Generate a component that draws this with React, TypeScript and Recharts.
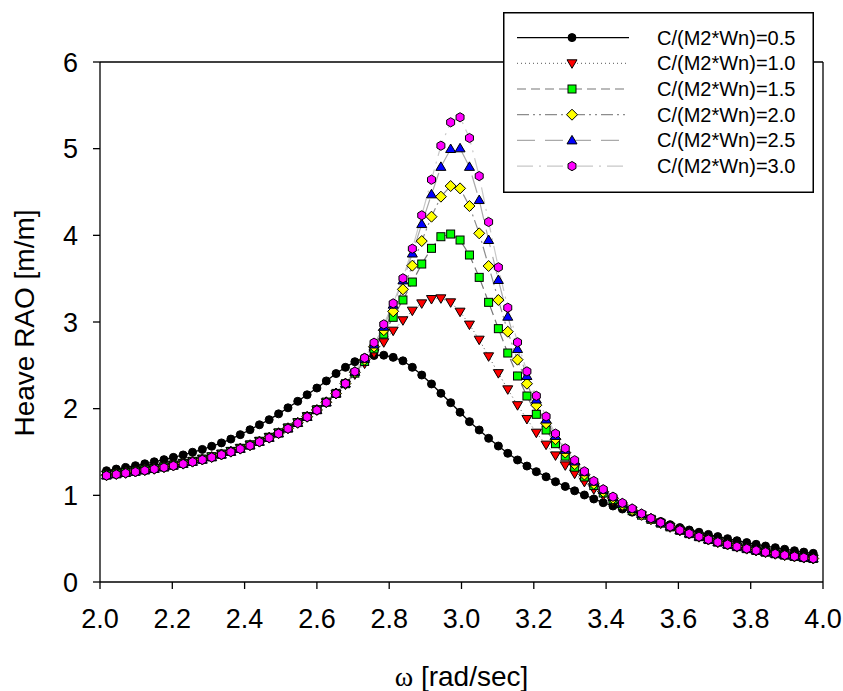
import { LineChart, Line, XAxis, YAxis, ReferenceLine, Legend, Label } from 'recharts'

const FONT = 'Liberation Sans, Arial, sans-serif'

// wave frequency, rad/sec
const OMEGA = [
  2.018, 2.045, 2.071, 2.098, 2.124, 2.150, 2.177, 2.203, 2.230, 2.256,
  2.283, 2.309, 2.336, 2.362, 2.388, 2.415, 2.441, 2.468, 2.494, 2.520,
  2.547, 2.573, 2.600, 2.626, 2.653, 2.679, 2.705, 2.732, 2.758, 2.785,
  2.811, 2.838, 2.864, 2.890, 2.917, 2.943, 2.970, 2.996, 3.022, 3.049,
  3.075, 3.102, 3.128, 3.155, 3.181, 3.207, 3.234, 3.260, 3.287, 3.313,
  3.340, 3.366, 3.392, 3.419, 3.445, 3.472, 3.498, 3.524, 3.551, 3.577,
  3.604, 3.630, 3.657, 3.683, 3.709, 3.736, 3.762, 3.789, 3.815, 3.841,
  3.868, 3.894, 3.921, 3.947, 3.973,
]

const RAO_05 = [
  1.284, 1.303, 1.322, 1.342, 1.364, 1.387, 1.412, 1.438, 1.466, 1.497,
  1.530, 1.566, 1.605, 1.649, 1.700, 1.757, 1.814, 1.873, 1.940, 2.010,
  2.085, 2.160, 2.238, 2.320, 2.405, 2.477, 2.542, 2.588, 2.614, 2.617,
  2.592, 2.552, 2.477, 2.388, 2.285, 2.177, 2.069, 1.958, 1.850, 1.754,
  1.658, 1.569, 1.485, 1.408, 1.338, 1.273, 1.214, 1.157, 1.103, 1.052,
  1.004, 0.958, 0.915, 0.877, 0.842, 0.806, 0.771, 0.735, 0.698, 0.662,
  0.628, 0.600, 0.574, 0.549, 0.524, 0.500, 0.477, 0.455, 0.435, 0.415,
  0.396, 0.378, 0.361, 0.345, 0.331,
]

const RAO_10 = [
  1.240, 1.254, 1.268, 1.283, 1.299, 1.315, 1.333, 1.353, 1.374, 1.397,
  1.422, 1.450, 1.480, 1.512, 1.547, 1.586, 1.628, 1.674, 1.725, 1.781,
  1.843, 1.912, 1.989, 2.074, 2.170, 2.278, 2.395, 2.520, 2.640, 2.766,
  2.900, 3.020, 3.131, 3.215, 3.265, 3.273, 3.227, 3.119, 2.970, 2.796,
  2.604, 2.410, 2.223, 2.040, 1.881, 1.723, 1.585, 1.461, 1.346, 1.250,
  1.155, 1.070, 1.000, 0.935, 0.875, 0.822, 0.770, 0.721, 0.676, 0.633,
  0.594, 0.556, 0.521, 0.489, 0.459, 0.432, 0.407, 0.384, 0.363, 0.344,
  0.326, 0.310, 0.295, 0.282, 0.271,
]

const RAO_15 = [
  1.235, 1.249, 1.263, 1.278, 1.294, 1.310, 1.328, 1.348, 1.369, 1.392,
  1.417, 1.445, 1.475, 1.507, 1.542, 1.581, 1.623, 1.669, 1.720, 1.777,
  1.840, 1.910, 1.988, 2.076, 2.176, 2.288, 2.410, 2.545, 2.690, 2.861,
  3.054, 3.254, 3.461, 3.669, 3.850, 3.984, 4.015, 3.946, 3.773, 3.515,
  3.227, 2.923, 2.642, 2.377, 2.146, 1.935, 1.754, 1.596, 1.452, 1.325,
  1.212, 1.112, 1.027, 0.950, 0.882, 0.823, 0.771, 0.723, 0.679, 0.636,
  0.596, 0.558, 0.523, 0.490, 0.460, 0.433, 0.408, 0.385, 0.364, 0.344,
  0.326, 0.310, 0.295, 0.282, 0.271,
]

const RAO_20 = [
  1.232, 1.246, 1.260, 1.275, 1.291, 1.307, 1.325, 1.345, 1.366, 1.389,
  1.414, 1.442, 1.472, 1.504, 1.539, 1.578, 1.620, 1.666, 1.717, 1.774,
  1.837, 1.907, 1.985, 2.074, 2.175, 2.290, 2.420, 2.565, 2.715, 2.905,
  3.123, 3.377, 3.650, 3.934, 4.215, 4.446, 4.569, 4.542, 4.338, 4.023,
  3.646, 3.254, 2.888, 2.565, 2.288, 2.040, 1.831, 1.648, 1.494, 1.360,
  1.240, 1.133, 1.042, 0.962, 0.892, 0.830, 0.776, 0.727, 0.682, 0.638,
  0.597, 0.559, 0.523, 0.490, 0.460, 0.433, 0.408, 0.385, 0.364, 0.344,
  0.326, 0.310, 0.295, 0.282, 0.271,
]

const RAO_25 = [
  1.230, 1.244, 1.258, 1.273, 1.289, 1.305, 1.323, 1.343, 1.364, 1.387,
  1.412, 1.440, 1.470, 1.502, 1.537, 1.576, 1.618, 1.664, 1.715, 1.772,
  1.835, 1.905, 1.984, 2.073, 2.174, 2.290, 2.425, 2.575, 2.740, 2.945,
  3.200, 3.480, 3.790, 4.130, 4.473, 4.790, 4.996, 5.004, 4.790, 4.407,
  3.946, 3.485, 3.061, 2.688, 2.377, 2.105, 1.875, 1.685, 1.525, 1.390,
  1.267, 1.157, 1.063, 0.979, 0.906, 0.843, 0.786, 0.733, 0.685, 0.640,
  0.598, 0.559, 0.523, 0.490, 0.460, 0.433, 0.408, 0.385, 0.364, 0.344,
  0.326, 0.310, 0.295, 0.282, 0.271,
]

const RAO_30 = [
  1.228, 1.242, 1.256, 1.271, 1.287, 1.303, 1.321, 1.341, 1.362, 1.385,
  1.410, 1.438, 1.468, 1.500, 1.535, 1.574, 1.616, 1.662, 1.713, 1.770,
  1.833, 1.903, 1.982, 2.071, 2.172, 2.290, 2.428, 2.585, 2.761, 2.973,
  3.215, 3.504, 3.846, 4.231, 4.642, 5.034, 5.304, 5.362, 5.123, 4.684,
  4.154, 3.631, 3.165, 2.766, 2.430, 2.148, 1.910, 1.712, 1.542, 1.405,
  1.277, 1.165, 1.070, 0.984, 0.912, 0.848, 0.789, 0.735, 0.686, 0.640,
  0.598, 0.559, 0.523, 0.490, 0.460, 0.433, 0.408, 0.385, 0.364, 0.344,
  0.326, 0.310, 0.295, 0.282, 0.271,
]

const X_TICKS = [2.0, 2.2, 2.4, 2.6, 2.8, 3.0, 3.2, 3.4, 3.6, 3.8, 4.0]
const Y_TICKS = [0, 1, 2, 3, 4, 5, 6]

const rows = OMEGA.map((w, i) => ({
  w,
  c05: RAO_05[i],
  c10: RAO_10[i],
  c15: RAO_15[i],
  c20: RAO_20[i],
  c25: RAO_25[i],
  c30: RAO_30[i],
}))

type Shape = 'circle' | 'triDown' | 'square' | 'diamond' | 'triUp' | 'hex'

function Marker({ cx, cy, shape, fill }: { cx: number; cy: number; shape: Shape; fill: string }) {
  const common = { fill, stroke: '#000', strokeWidth: 1 }
  switch (shape) {
    case 'circle':
      return <circle cx={cx} cy={cy} r={4} {...common} />
    case 'triDown':
      return <polygon points={`${cx - 5},${cy - 3.5} ${cx + 5},${cy - 3.5} ${cx},${cy + 5}`} {...common} />
    case 'triUp':
      return <polygon points={`${cx - 5},${cy + 3.5} ${cx + 5},${cy + 3.5} ${cx},${cy - 5}`} {...common} />
    case 'square':
      return <rect x={cx - 4} y={cy - 4} width={8} height={8} {...common} />
    case 'diamond':
      return <polygon points={`${cx},${cy - 5.5} ${cx + 5.5},${cy} ${cx},${cy + 5.5} ${cx - 5.5},${cy}`} {...common} />
    default: {
      const r = 4.6
      const pts = [0, 1, 2, 3, 4, 5]
        .map((k) => {
          const a = (Math.PI / 3) * k + Math.PI / 6
          return `${cx + r * Math.cos(a)},${cy + r * Math.sin(a)}`
        })
        .join(' ')
      return <polygon points={pts} {...common} />
    }
  }
}

const SERIES = [
  { key: 'c05', name: 'C/(M2*Wn)=0.5', shape: 'circle' as Shape, fill: '#000000', line: '#000000', dash: undefined, width: 1.3 },
  { key: 'c10', name: 'C/(M2*Wn)=1.0', shape: 'triDown' as Shape, fill: '#ff0000', line: '#555555', dash: '1 3', width: 1 },
  { key: 'c15', name: 'C/(M2*Wn)=1.5', shape: 'square' as Shape, fill: '#00ff00', line: '#777777', dash: '9 5', width: 1.2 },
  { key: 'c20', name: 'C/(M2*Wn)=2.0', shape: 'diamond' as Shape, fill: '#ffff00', line: '#8c8c8c', dash: '12 4 2 4 2 4', width: 1.2 },
  { key: 'c25', name: 'C/(M2*Wn)=2.5', shape: 'triUp' as Shape, fill: '#0000ff', line: '#aaaaaa', dash: '18 10', width: 1.2 },
  { key: 'c30', name: 'C/(M2*Wn)=3.0', shape: 'hex' as Shape, fill: '#ff00ff', line: '#c8c8c8', dash: '16 6 2 6', width: 1.2 },
]

function LegendBox() {
  return (
    <svg width={311} height={181} style={{ display: 'block' }}>
      <rect x={0.75} y={0.75} width={309.5} height={179.5} fill="#fff" stroke="#000" strokeWidth={1.5} />
      {SERIES.map((s, i) => {
        const y = 25.6 + i * 25.7
        return (
          <g key={s.key}>
            <line x1={14} x2={126} y1={y} y2={y} stroke={s.line} strokeWidth={s.width} strokeDasharray={s.dash} />
            <Marker cx={69} cy={y} shape={s.shape} fill={s.fill} />
            <text x={154} y={y} dy="0.35em" fontSize={20} fontFamily={FONT} fill="#000">
              {s.name}
            </text>
          </g>
        )
      })}
    </svg>
  )
}

function XTitle(props: any) {
  const vb = props.viewBox || { x: 100, width: 723, y: 582 }
  return (
    <text x={vb.x + vb.width / 2} y={686} textAnchor="middle" fontSize={28} fontFamily={FONT} fill="#000">
      <tspan fontFamily="Liberation Serif, Times New Roman, serif">ω</tspan>
      <tspan> [rad/sec]</tspan>
    </text>
  )
}

function YTitle() {
  return (
    <text x={34} y={323} transform="rotate(-90, 34, 323)" textAnchor="middle" fontSize={28} fontFamily={FONT} fill="#000">
      Heave RAO [m/m]
    </text>
  )
}

export default function App() {
  return (
    <div style={{ position: 'absolute', left: 0, top: 0, background: '#fff' }}>
      <LineChart width={843} height={691} data={rows} margin={{ top: 62, right: 20, left: 0, bottom: 49 }}>
        <XAxis
          type="number"
          dataKey="w"
          domain={[2, 4]}
          ticks={X_TICKS}
          tickFormatter={(v: number) => v.toFixed(1)}
          tick={{ fill: '#000', fontSize: 27, fontFamily: FONT }}
          tickSize={7}
          tickMargin={20}
          axisLine={{ stroke: '#000', strokeWidth: 1.3 }}
          tickLine={{ stroke: '#000', strokeWidth: 1.3 }}
          height={60}
          allowDataOverflow
        >
          <Label content={XTitle} />
        </XAxis>
        <YAxis
          type="number"
          domain={[0, 6]}
          ticks={Y_TICKS}
          tick={{ fill: '#000', fontSize: 27, fontFamily: FONT }}
          tickSize={7}
          tickMargin={15}
          axisLine={{ stroke: '#000', strokeWidth: 1.3 }}
          tickLine={{ stroke: '#000', strokeWidth: 1.3 }}
          width={100}
        >
          <Label content={YTitle} />
        </YAxis>
        <ReferenceLine y={6} stroke="#000" strokeWidth={1.3} />
        <ReferenceLine x={4} stroke="#000" strokeWidth={1.3} />
        {SERIES.map((s) => (
          <Line
            key={s.key}
            dataKey={s.key}
            name={s.name}
            type="linear"
            stroke={s.line}
            strokeWidth={s.width}
            strokeDasharray={s.dash}
            isAnimationActive={false}
            activeDot={false}
            dot={(p: any) => <Marker key={`${s.key}-${p.index}`} cx={p.cx} cy={p.cy} shape={s.shape} fill={s.fill} />}
          />
        ))}
        <Legend
          layout="vertical"
          align="center"
          verticalAlign="middle"
          content={() => <LegendBox />}
          wrapperStyle={{ left: 503, top: 12, width: 311, height: 181 }}
        />
      </LineChart>
    </div>
  )
}
